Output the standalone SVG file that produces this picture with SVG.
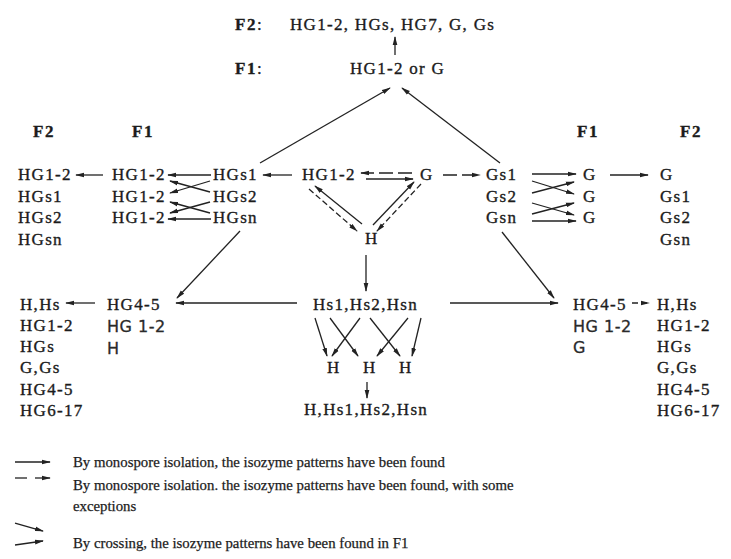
<svg xmlns="http://www.w3.org/2000/svg" width="731" height="559" viewBox="0 0 731 559">
<style>
text{font-family:"Liberation Serif",serif;font-size:17px;letter-spacing:1.3px;fill:#1c1c1c;stroke:#1c1c1c;stroke-width:0.35}
.b{font-weight:bold;letter-spacing:1.5px}
.hand{font-family:"DejaVu Sans",sans-serif;font-size:16px;letter-spacing:0.5px;fill:#2a2a2a;stroke:#2a2a2a;stroke-width:0.3}
.leg{font-family:"Liberation Serif",serif;font-size:14.8px;letter-spacing:0;stroke-width:0.25}
line{stroke:#222;stroke-width:1.3;fill:none}
.a{marker-end:url(#ah)}
.d{stroke-dasharray:6 3}
.dl{stroke-dasharray:14 5}
</style>
<defs>
<marker id="ah" viewBox="0 0 10 6" refX="9" refY="3" markerWidth="9" markerHeight="5.4" markerUnits="userSpaceOnUse" orient="auto">
<path d="M0,0.4 L10,3 L0,5.6 z" fill="#222"/>
</marker>
</defs>
<rect width="731" height="559" fill="#fff"/>

<g id="top-f2"><text x="235" y="30"><tspan class="b">F2</tspan>:</text><text x="290" y="30">HG1-2, HGs, HG7, G, Gs</text></g>
<g id="top-f1"><text x="235" y="74"><tspan class="b">F1</tspan>:</text><text x="350" y="74">HG1-2 or G</text></g>

<g id="headers">
<text class="b" x="33" y="137">F2</text>
<text class="b" x="132" y="137">F1</text>
<text class="b" x="577" y="137">F1</text>
<text class="b" x="680" y="137">F2</text>
</g>

<g id="left-f2"><text x="18" y="180">HG1-2</text><text x="18" y="202">HGs1</text><text x="18" y="223">HGs2</text><text x="18" y="245">HGsn</text></g>
<g id="left-f1"><text x="112" y="180">HG1-2</text><text x="112" y="202">HG1-2</text><text x="112" y="223">HG1-2</text></g>
<g id="hgs"><text x="213" y="180">HGs1</text><text x="213" y="202">HGs2</text><text x="213" y="223">HGsn</text></g>
<g id="hg12"><text x="302" y="180">HG1-2</text></g>
<g id="g"><text x="420" y="180">G</text></g>
<g id="h"><text x="365" y="244">H</text></g>
<g id="gs"><text x="486" y="180">Gs1</text><text x="486" y="202">Gs2</text><text x="486" y="223">Gsn</text></g>
<g id="right-f1"><text x="583" y="180">G</text><text x="583" y="202">G</text><text x="583" y="223">G</text></g>
<g id="right-f2"><text x="660" y="180">G</text><text x="660" y="202">Gs1</text><text x="660" y="223">Gs2</text><text x="660" y="245">Gsn</text></g>

<g id="hs"><text x="313" y="310">Hs1,Hs2,Hsn</text></g>
<g id="h-row"><text x="327" y="373">H</text><text x="363" y="373">H</text><text x="399" y="373">H</text></g>
<g id="h-f2"><text x="304" y="415">H,Hs1,Hs2,Hsn</text></g>

<g id="left-hg45"><text x="107" y="310">HG4-5</text><text class="hand" x="107" y="332">HG 1-2</text><text class="hand" x="107" y="354">H</text></g>
<g id="left-bottom-f2"><text x="20" y="310">H,Hs</text><text x="20" y="331">HG1-2</text><text x="20" y="352">HGs</text><text x="20" y="373">G,Gs</text><text x="20" y="395">HG4-5</text><text x="20" y="416">HG6-17</text></g>
<g id="right-hg45"><text x="573" y="310">HG4-5</text><text class="hand" x="573" y="332">HG 1-2</text><text class="hand" x="573" y="353">G</text></g>
<g id="right-bottom-f2"><text x="657" y="310">H,Hs</text><text x="657" y="331">HG1-2</text><text x="657" y="352">HGs</text><text x="657" y="373">G,Gs</text><text x="657" y="395">HG4-5</text><text x="657" y="416">HG6-17</text></g>

<g id="connectors">
<line class="a" x1="395" y1="55" x2="395" y2="37"/>
<line class="a" x1="260" y1="163" x2="390" y2="88"/>
<line class="a" x1="500" y1="163" x2="402" y2="88"/>
<line class="a" x1="103" y1="175" x2="76" y2="175"/>
<line class="a" x1="292" y1="175" x2="263" y2="175"/>
<line class="a" x1="211" y1="175" x2="168" y2="175"/>
<line class="a" x1="210" y1="192" x2="170" y2="181"/>
<line class="a" x1="210" y1="181" x2="170" y2="193"/>
<line class="a" x1="210" y1="213" x2="170" y2="202"/>
<line class="a" x1="210" y1="202" x2="170" y2="213"/>
<line class="a" x1="211" y1="219" x2="168" y2="219"/>
<line class="a dl" x1="412" y1="173" x2="361" y2="173"/>
<line class="a" x1="366" y1="179" x2="413" y2="179"/>
<line class="a" x1="362" y1="224" x2="315" y2="186"/>
<line class="a d" x1="309" y1="189" x2="357" y2="231"/>
<line class="a" x1="373" y1="225" x2="414" y2="182"/>
<line class="a d" x1="421" y1="184" x2="377" y2="231"/>
<line class="a dl" x1="443" y1="175" x2="480" y2="175"/>
<line class="a" x1="532" y1="174" x2="576" y2="174"/>
<line class="a" x1="532" y1="193" x2="574" y2="182"/>
<line class="a" x1="532" y1="181" x2="574" y2="194"/>
<line class="a" x1="532" y1="214" x2="574" y2="203"/>
<line class="a" x1="532" y1="203" x2="574" y2="215"/>
<line class="a" x1="532" y1="221" x2="576" y2="221"/>
<line class="a" x1="610" y1="175" x2="648" y2="175"/>
<line class="a" x1="366" y1="255" x2="366" y2="291"/>
<line class="a" x1="297" y1="303" x2="176" y2="303"/>
<line class="a" x1="450" y1="303" x2="558" y2="303"/>
<line class="a" x1="240" y1="231" x2="177" y2="298"/>
<line class="a" x1="502" y1="232" x2="554" y2="298"/>
<line class="a" x1="95" y1="303" x2="66" y2="303"/>
<line class="a d" x1="632" y1="303" x2="649" y2="303"/>
<line class="a" x1="315" y1="318" x2="327" y2="356"/>
<line class="a" x1="330" y1="318" x2="358" y2="356"/>
<line class="a" x1="360" y1="318" x2="332" y2="356"/>
<line class="a" x1="370" y1="318" x2="400" y2="356"/>
<line class="a" x1="408" y1="318" x2="377" y2="356"/>
<line class="a" x1="421" y1="318" x2="412" y2="356"/>
<line class="a" x1="367" y1="382" x2="367" y2="398"/>
</g>

<g id="legend">
<line class="a" x1="15" y1="462" x2="50" y2="462"/>
<text class="leg" x="73" y="467">By monospore isolation, the isozyme patterns have been found</text>
<line x1="15" y1="478" x2="27" y2="478"/>
<line class="a" x1="35" y1="478" x2="50" y2="478"/>
<text class="leg" x="73" y="490">By monospore isolation. the isozyme patterns have been found, with some</text>
<text class="leg" x="73" y="511">exceptions</text>
<line class="a" x1="15" y1="523" x2="43" y2="531"/>
<line class="a" x1="15" y1="545" x2="43" y2="541"/>
<text class="leg" x="73" y="548">By crossing, the isozyme patterns have been found in F1</text>
</g>
</svg>
